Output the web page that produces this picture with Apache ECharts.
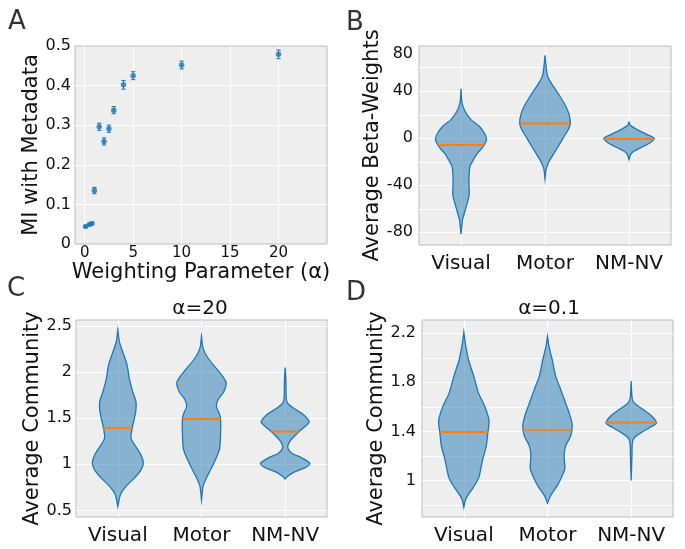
<!DOCTYPE html>
<html>
<head>
<meta charset="utf-8">
<script src="https://cdn.jsdelivr.net/npm/echarts@6/dist/echarts.min.js"></script>
<style>
  html, body { margin: 0; padding: 0; background: #fff; }
  #chart { width: 685px; height: 549px; }
</style>
</head>
<body>
<div id="chart"></div>
<script>
// --- panel A: MI vs weighting parameter ---
const alphaValues = [0.1, 0.5, 0.75, 1, 1.5, 2, 2.5, 3, 4, 5, 10, 20];
const miValues = [0.044, 0.049, 0.052, 0.135, 0.296, 0.259, 0.291, 0.338, 0.402, 0.425, 0.452, 0.479];
const miErrors = [0.002, 0.002, 0.002, 0.008, 0.009, 0.009, 0.009, 0.009, 0.011, 0.01, 0.01, 0.011];

const groups = ['Visual', 'Motor', 'NM-NV'];

// violin outlines, top tip to bottom tip: [value, relative half-width]
// panel B - beta weights
const betaVisual = [[42.0, 0], [30.1, 0.04], [23, 0.16], [15.9, 0.39], [10.2, 0.71], [4.5, 0.91], [-0.6, 1.0], [-6.8, 0.88], [-12.5, 0.65], [-19.6, 0.45], [-23.9, 0.35], [-29.5, 0.32], [-38, 0.31], [-48, 0.32], [-53.7, 0.26], [-60.8, 0.17], [-69.3, 0.06], [-75, 0.03], [-81.5, 0]];
const betaMotor = [[70.5, 0], [61.4, 0.04], [52.8, 0.1], [44.3, 0.32], [35.8, 0.58], [27.3, 0.81], [20.2, 0.94], [13.1, 0.99], [7.4, 0.91], [0.3, 0.71], [-6.8, 0.52], [-13.9, 0.32], [-21, 0.13], [-26.7, 0.04], [-34.7, 0]];
const betaNMNV = [[13.6, 0], [10.8, 0.06], [7.4, 0.32], [3.1, 0.71], [-0.3, 0.99], [-4, 0.81], [-7.4, 0.52], [-11.1, 0.19], [-13.9, 0.06], [-18.2, 0]];
const betaMedians = [-5.7, 12.5, -0.6];

// panel C - alpha = 20
const a20Visual = [[2.46, 0], [2.33, 0.06], [2.22, 0.19], [2.08, 0.36], [1.93, 0.45], [1.79, 0.58], [1.68, 0.71], [1.59, 0.71], [1.50, 0.65], [1.39, 0.56], [1.28, 0.52], [1.19, 0.71], [1.10, 0.91], [1.01, 1.0], [0.94, 0.91], [0.85, 0.65], [0.76, 0.32], [0.67, 0.1], [0.54, 0]];
const a20Motor = [[2.39, 0], [2.26, 0.06], [2.15, 0.26], [2.04, 0.58], [1.95, 0.84], [1.88, 0.97], [1.79, 0.88], [1.70, 0.65], [1.63, 0.58], [1.54, 0.71], [1.48, 0.75], [1.36, 0.75], [1.17, 0.71], [1.07, 0.58], [0.96, 0.39], [0.85, 0.19], [0.76, 0.06], [0.61, 0]];
const a20NMNV = [[2.05, 0], [1.90, 0.03], [1.72, 0.04], [1.66, 0.1], [1.61, 0.32], [1.54, 0.71], [1.46, 0.94], [1.41, 0.78], [1.34, 0.49], [1.25, 0.19], [1.18, 0.1], [1.12, 0.26], [1.07, 0.65], [1.01, 0.97], [0.97, 0.84], [0.92, 0.39], [0.87, 0.1], [0.84, 0]];
const a20Medians = [1.395, 1.49, 1.355];

// panel D - alpha = 0.1
const a01Visual = [[2.21, 0], [2.116, 0.06], [1.98, 0.19], [1.85, 0.39], [1.71, 0.58], [1.61, 0.81], [1.51, 0.97], [1.47, 0.99], [1.39, 0.94], [1.28, 0.88], [1.18, 0.75], [1.08, 0.65], [1.02, 0.58], [0.95, 0.39], [0.88, 0.16], [0.84, 0.06], [0.78, 0]];
const a01Motor = [[2.175, 0], [2.09, 0.06], [1.98, 0.19], [1.85, 0.32], [1.74, 0.52], [1.63, 0.71], [1.53, 0.88], [1.445, 0.97], [1.365, 0.91], [1.28, 0.71], [1.20, 0.65], [1.10, 0.68], [1.04, 0.58], [0.96, 0.39], [0.88, 0.13], [0.815, 0]];
const a01NMNV = [[1.81, 0], [1.67, 0.04], [1.63, 0.13], [1.58, 0.45], [1.53, 0.78], [1.47, 0.99], [1.43, 0.71], [1.39, 0.39], [1.35, 0.13], [1.31, 0.05], [1.20, 0.03], [1.00, 0]];
const a01Medians = [1.395, 1.41, 1.472];

const BLUE = '#1f77b4';
const ORANGE = '#ff7f0e';
const FONT = 'DejaVu Sans';
const VIOLIN_HALF = 0.305; // max half width in category units

const chart = echarts.init(document.getElementById('chart'), null, { renderer: 'canvas' });

function halfAt(prof, v) {
    for (let i = 0; i < prof.length - 1; i++) {
        const a = prof[i], b = prof[i + 1];
        if (v <= a[0] && v >= b[0]) {
            const t = (a[0] - v) / (a[0] - b[0]);
            return a[1] + t * (b[1] - a[1]);
        }
    }
    return 0;
}

function violinSeries(profiles, medians, idx) {
    return {
        type: 'custom',
        xAxisIndex: idx,
        yAxisIndex: idx,
        data: medians.map((m, i) => [i + 1, m]),
        renderItem: (params, api) => {
            const pos = api.value(0);
            const med = api.value(1);
            const prof = profiles[params.dataIndex];
            const right = prof.map(p => api.coord([pos + p[1] * VIOLIN_HALF, p[0]]));
            const left = prof.slice().reverse().map(p => api.coord([pos - p[1] * VIOLIN_HALF, p[0]]));
            const pts = right.concat(left);
            // keep bezier control points inside the outline's box so tips don't overshoot
            const bbMin = [Infinity, Infinity], bbMax = [-Infinity, -Infinity];
            pts.forEach(p => {
                bbMin[0] = Math.min(bbMin[0], p[0]); bbMin[1] = Math.min(bbMin[1], p[1]);
                bbMax[0] = Math.max(bbMax[0], p[0]); bbMax[1] = Math.max(bbMax[1], p[1]);
            });
            const w = halfAt(prof, med) * VIOLIN_HALF;
            const m0 = api.coord([pos - w, med]);
            const m1 = api.coord([pos + w, med]);
            return {
                type: 'group',
                children: [
                    {
                        type: 'polygon',
                        shape: { points: pts, smooth: 0.3, smoothConstraint: [bbMin, bbMax] },
                        style: { fill: 'rgba(31,119,180,0.5)', stroke: BLUE, lineWidth: 1.3 }
                    },
                    {
                        type: 'line',
                        shape: { x1: m0[0], y1: m0[1], x2: m1[0], y2: m1[1] },
                        style: { stroke: ORANGE, lineWidth: 2 }
                    }
                ]
            };
        }
    };
}

const gridBase = { show: true, backgroundColor: '#eeeeee', borderColor: '#bcbcbc', borderWidth: 1 };
const splitWhite = { show: true, showMinLine: false, showMaxLine: false, lineStyle: { color: '#ffffff', width: 1 } };
const tickText = size => ({ color: '#111', fontFamily: FONT, fontSize: size });
const nameText = { color: '#111', fontFamily: FONT, fontSize: 21 };

function groupAxis(idx) {
    return {
        type: 'value', gridIndex: idx, min: 0.5, max: 3.5, splitNumber: 3,
        axisLine: { show: false }, axisTick: { show: false },
        splitLine: splitWhite,
        axisLabel: Object.assign({
            margin: 9,
            showMinLabel: true, showMaxLabel: true,
            formatter: v => (Math.abs(v - Math.round(v)) < 1e-6 && v >= 1 && v <= 3) ? groups[Math.round(v) - 1] : ''
        }, tickText(20))
    };
}

const option = {
    animation: false,
    backgroundColor: '#ffffff',
    title: [
        { text: 'A', left: 8, top: 9, padding: 0, textStyle: { color: '#333', fontFamily: FONT, fontSize: 26, fontWeight: 'normal' } },
        { text: 'B', left: 346, top: 10, padding: 0, textStyle: { color: '#333', fontFamily: FONT, fontSize: 26, fontWeight: 'normal' } },
        { text: 'C', left: 7, top: 276, padding: 0, textStyle: { color: '#333', fontFamily: FONT, fontSize: 26, fontWeight: 'normal' } },
        { text: 'D', left: 346, top: 280, padding: 0, textStyle: { color: '#333', fontFamily: FONT, fontSize: 26, fontWeight: 'normal' } },
        { text: 'α=20', left: 200, textAlign: 'center', top: 299, padding: 0, textStyle: { color: '#111', fontFamily: FONT, fontSize: 20, fontWeight: 'normal' } },
        { text: 'α=0.1', left: 549, textAlign: 'center', top: 299, padding: 0, textStyle: { color: '#111', fontFamily: FONT, fontSize: 20, fontWeight: 'normal' } }
    ],
    grid: [
        Object.assign({ left: 75, right: 358, top: 46, bottom: 305 }, gridBase),
        Object.assign({ left: 419, right: 14, top: 46, bottom: 304 }, gridBase),
        Object.assign({ left: 76, right: 358, top: 320, bottom: 32 }, gridBase),
        Object.assign({ left: 422, right: 12, top: 320, bottom: 32 }, gridBase)
    ],
    xAxis: [
        {
            type: 'value', gridIndex: 0, min: -1, max: 25, splitNumber: 5,
            name: 'Weighting Parameter (α)', nameLocation: 'middle', nameGap: 17, nameTextStyle: nameText,
            axisLine: { show: false }, axisTick: { show: false },
            splitLine: splitWhite,
            axisLabel: Object.assign({
                margin: 2,
                formatter: v => (v >= 0 && v <= 20 && Math.abs(v % 5) < 1e-6) ? String(v) : ''
            }, tickText(15))
        },
        groupAxis(1),
        groupAxis(2),
        groupAxis(3)
    ],
    yAxis: [
        {
            type: 'value', gridIndex: 0, min: 0, max: 0.5, interval: 0.1,
            name: 'MI with Metadata', nameLocation: 'middle', nameGap: 33, nameTextStyle: nameText,
            axisLine: { show: false }, axisTick: { show: false },
            splitLine: splitWhite,
            axisLabel: Object.assign({
                margin: 4,
                formatter: v => v === 0 ? '0' : v.toFixed(1)
            }, tickText(16))
        },
        {
            type: 'value', gridIndex: 1, min: -90.8, max: 78.5, splitNumber: 8,
            name: 'Average Beta-Weights', nameLocation: 'middle', nameGap: 33, nameTextStyle: nameText,
            axisLine: { show: false }, axisTick: { show: false },
            splitLine: splitWhite,
            axisLabel: Object.assign({
                margin: 6,
                showMaxLabel: true,
                verticalAlignMaxLabel: 'top',
                formatter: v => {
                    if (v > 70) return '80';
                    const r = Math.round(v);
                    return (Math.abs(v - r) < 1e-6 && r % 40 === 0) ? String(r) : '';
                }
            }, tickText(16))
        },
        {
            type: 'value', gridIndex: 2, min: 0.428, max: 2.565, splitNumber: 4,
            name: 'Average Community', nameLocation: 'middle', nameGap: 29, nameTextStyle: nameText,
            axisLine: { show: false }, axisTick: { show: false },
            splitLine: splitWhite,
            axisLabel: Object.assign({
                margin: 4,
                formatter: v => {
                    const r = Math.round(v * 2) / 2;
                    if (Math.abs(v - r) > 1e-6) return '';
                    return Number.isInteger(r) ? String(r) : r.toFixed(1);
                }
            }, tickText(16))
        },
        {
            type: 'value', gridIndex: 3, min: 0.702, max: 2.308, splitNumber: 8,
            name: 'Average Community', nameLocation: 'middle', nameGap: 31, nameTextStyle: nameText,
            axisLine: { show: false }, axisTick: { show: false },
            splitLine: splitWhite,
            axisLabel: Object.assign({
                margin: 6,
                formatter: v => {
                    const r = Math.round(v * 10) / 10;
                    if (Math.abs(v - r) > 1e-6) return '';
                    const k = Math.round(r * 10);
                    if ((k - 10) % 4 !== 0) return '';
                    return Number.isInteger(r) ? String(r) : r.toFixed(1);
                }
            }, tickText(16))
        }
    ],
    series: [
        {
            type: 'custom',
            xAxisIndex: 0, yAxisIndex: 0,
            data: alphaValues.map((a, i) => [a, miValues[i], miErrors[i]]),
            renderItem: (params, api) => {
                const x = api.value(0), y = api.value(1), e = api.value(2);
                const top = api.coord([x, y + e]);
                const bot = api.coord([x, y - e]);
                const cap = 2.2;
                const st = { stroke: BLUE, lineWidth: 1 };
                return {
                    type: 'group',
                    children: [
                        { type: 'line', shape: { x1: top[0], y1: top[1], x2: bot[0], y2: bot[1] }, style: st },
                        { type: 'line', shape: { x1: top[0] - cap, y1: top[1], x2: top[0] + cap, y2: top[1] }, style: st },
                        { type: 'line', shape: { x1: bot[0] - cap, y1: bot[1], x2: bot[0] + cap, y2: bot[1] }, style: st }
                    ]
                };
            }
        },
        {
            type: 'scatter',
            xAxisIndex: 0, yAxisIndex: 0,
            symbol: 'circle', symbolSize: 5.5,
            itemStyle: { color: BLUE },
            data: alphaValues.map((a, i) => [a, miValues[i]])
        },
        violinSeries([betaVisual, betaMotor, betaNMNV], betaMedians, 1),
        violinSeries([a20Visual, a20Motor, a20NMNV], a20Medians, 2),
        violinSeries([a01Visual, a01Motor, a01NMNV], a01Medians, 3)
    ]
};

chart.setOption(option);
</script>
</body>
</html>
